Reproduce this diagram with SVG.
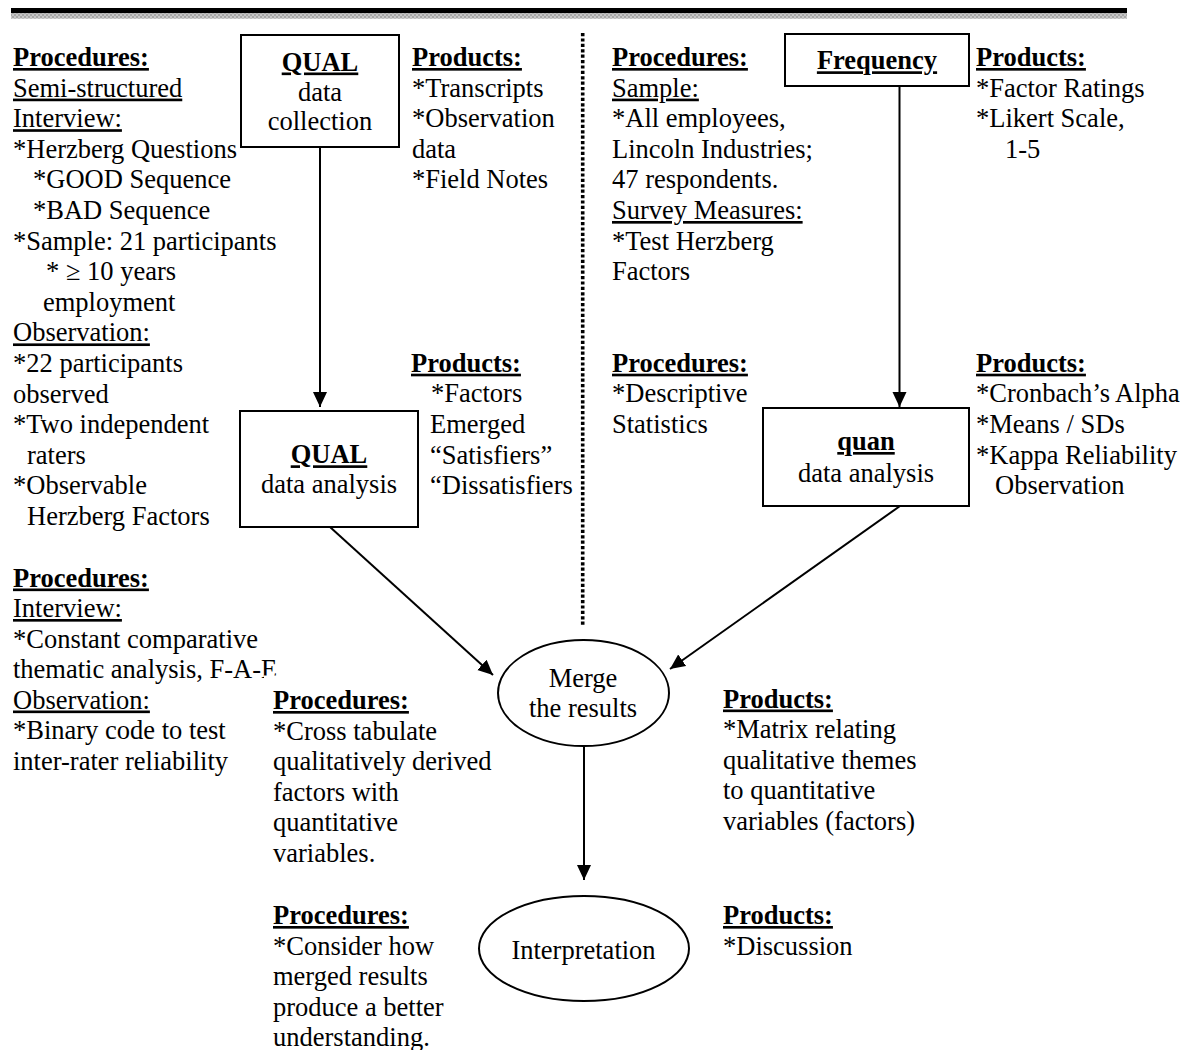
<svg xmlns="http://www.w3.org/2000/svg" width="1186" height="1050" viewBox="0 0 1186 1050">
<style>
text{font-family:"Liberation Serif","Times New Roman",serif;font-size:26.5px;fill:#000}
.b{font-weight:bold}
.u{text-decoration:underline}
.c{text-anchor:middle}
.box{fill:#fff;stroke:#000;stroke-width:2}
.conn{stroke:#000;stroke-width:2;fill:none}
</style>
<defs>
<marker id="ah" markerUnits="userSpaceOnUse" markerWidth="16" markerHeight="15" refX="15" refY="7" orient="auto">
<path d="M0,0 L15,7 L0,14 z" fill="#000"/>
</marker>
<pattern id="gp" width="4" height="4" patternUnits="userSpaceOnUse">
<rect width="4" height="4" fill="#c8c8c8"/>
<rect width="2" height="2" fill="#a8a8a8"/>
<rect x="2" y="2" width="2" height="2" fill="#a8a8a8"/>
</pattern>
</defs>
<rect x="0" y="0" width="1186" height="1050" fill="#fff"/>
<g id="topbar">
<rect x="11" y="8" width="1116" height="5.3" fill="#000"/>
<rect x="11" y="13.3" width="1116" height="5.4" fill="url(#gp)"/>
</g>
<g id="divider">
<line x1="582.7" y1="33" x2="582.7" y2="625" stroke="#000" stroke-width="3.6" stroke-dasharray="3.2 2.2"/>
</g>
<g id="connectors">
<line class="conn" x1="320" y1="147" x2="320" y2="407" marker-end="url(#ah)"/>
<line class="conn" x1="899.5" y1="86" x2="899.5" y2="407" marker-end="url(#ah)"/>
<line class="conn" x1="330" y1="527" x2="493" y2="675" marker-end="url(#ah)"/>
<line class="conn" x1="900" y1="506" x2="670" y2="669" marker-end="url(#ah)"/>
<line class="conn" x1="584" y1="746" x2="584" y2="880" marker-end="url(#ah)"/>
</g>
<g id="qual-collection">
<rect class="box" x="241" y="35" width="158" height="112"/>
<text class="b u c" x="320" y="70.5">QUAL</text>
<text class="c" x="320" y="100.8">data</text>
<text class="c" x="320" y="130">collection</text>
</g>
<g id="qual-analysis">
<rect class="box" x="240" y="411" width="178" height="116"/>
<text class="b u c" x="329" y="463.3">QUAL</text>
<text class="c" x="329" y="493.3">data analysis</text>
</g>
<g id="frequency">
<rect class="box" x="785" y="34" width="184" height="52"/>
<text class="b u c" x="877" y="69.3">Frequency</text>
</g>
<g id="quan-analysis">
<rect class="box" x="763" y="408" width="206" height="98"/>
<text class="b u c" x="866" y="450">quan</text>
<text class="c" x="866" y="481.7">data analysis</text>
</g>
<g id="merge">
<ellipse class="box" cx="583.5" cy="693" rx="85.5" ry="53"/>
<text class="c" x="583" y="686.7">Merge</text>
<text class="c" x="583" y="717.3">the results</text>
</g>
<g id="interpretation">
<ellipse class="box" cx="584" cy="948.5" rx="105" ry="52.5"/>
<text class="c" x="583.5" y="959.3">Interpretation</text>
</g>
<g id="qual-collection-procedures">
<text class="b u" x="13" y="66">Procedures:</text>
<text class="u" x="13" y="96.6">Semi-structured</text>
<text class="u" x="13" y="127.2">Interview:</text>
<text x="13" y="157.8">*Herzberg Questions</text>
<text x="33" y="188.4">*GOOD Sequence</text>
<text x="33" y="219">*BAD Sequence</text>
<text x="13" y="249.6">*Sample: 21 participants</text>
<text x="46" y="280.2">* ≥ 10 years</text>
<text x="43" y="310.8">employment</text>
<text class="u" x="13" y="341.4">Observation:</text>
<text x="13" y="372">*22 participants</text>
<text x="13" y="402.6">observed</text>
<text x="13" y="433.2">*Two independent</text>
<text x="27" y="463.8">raters</text>
<text x="13" y="494.4">*Observable</text>
<text x="27" y="525">Herzberg Factors</text>
</g>
<g id="qual-analysis-procedures">
<text class="b u" x="13" y="586.5">Procedures:</text>
<text class="u" x="13" y="617">Interview:</text>
<text x="13" y="647.6">*Constant comparative</text>
<text x="13" y="678">thematic analysis, F-A-E</text>
<text class="u" x="13" y="708.5">Observation:</text>
<text x="13" y="739">*Binary code to test</text>
<text x="13" y="769.6">inter-rater reliability</text>
</g>
<g id="merge-procedures">
<rect x="264" y="675.5" width="40" height="30" fill="#fff"/>
<text class="b u" x="273" y="709">Procedures:</text>
<text x="273" y="739.5">*Cross tabulate</text>
<text x="273" y="770">qualitatively derived</text>
<text x="273" y="800.5">factors with</text>
<text x="273" y="831">quantitative</text>
<text x="273" y="861.5">variables.</text>
</g>
<g id="interpretation-procedures">
<text class="b u" x="273" y="924">Procedures:</text>
<text x="273" y="954.5">*Consider how</text>
<text x="273" y="985">merged results</text>
<text x="273" y="1015.5">produce a better</text>
<text x="273" y="1046">understanding.</text>
</g>
<g id="qual-collection-products">
<text class="b u" x="412" y="66">Products:</text>
<text x="412" y="96.6">*Transcripts</text>
<text x="412" y="127.2">*Observation</text>
<text x="412" y="157.8">data</text>
<text x="412" y="188.4">*Field Notes</text>
</g>
<g id="qual-analysis-products">
<text class="b u" x="411" y="371.7">Products:</text>
<text x="431" y="402.3">*Factors</text>
<text x="430" y="432.9">Emerged</text>
<text x="430" y="463.5">“Satisfiers”</text>
<text x="430" y="494">“Dissatisfiers</text>
</g>
<g id="frequency-procedures">
<text class="b u" x="612" y="66">Procedures:</text>
<text class="u" x="612" y="96.6">Sample:</text>
<text x="612" y="127.2">*All employees,</text>
<text x="612" y="157.8">Lincoln Industries;</text>
<text x="612" y="188.4">47 respondents.</text>
<text class="u" x="612" y="219">Survey Measures:</text>
<text x="612" y="249.6">*Test Herzberg</text>
<text x="612" y="280.2">Factors</text>
</g>
<g id="quan-procedures">
<text class="b u" x="612" y="371.7">Procedures:</text>
<text x="612" y="402.3">*Descriptive</text>
<text x="612" y="432.9">Statistics</text>
</g>
<g id="frequency-products">
<text class="b u" x="976" y="66">Products:</text>
<text x="976" y="96.6">*Factor Ratings</text>
<text x="976" y="127.2">*Likert Scale,</text>
<text x="1005" y="157.8">1-5</text>
</g>
<g id="quan-products">
<text class="b u" x="976" y="371.7">Products:</text>
<text x="976" y="402.3">*Cronbach’s Alpha</text>
<text x="976" y="432.9">*Means / SDs</text>
<text x="976" y="463.5">*Kappa Reliability</text>
<text x="995" y="494">Observation</text>
</g>
<g id="merge-products">
<text class="b u" x="723" y="707.5">Products:</text>
<text x="723" y="738">*Matrix relating</text>
<text x="723" y="768.5">qualitative themes</text>
<text x="723" y="799">to quantitative</text>
<text x="723" y="829.5">variables (factors)</text>
</g>
<g id="interpretation-products">
<text class="b u" x="723" y="924">Products:</text>
<text x="723" y="954.5">*Discussion</text>
</g>
</svg>
